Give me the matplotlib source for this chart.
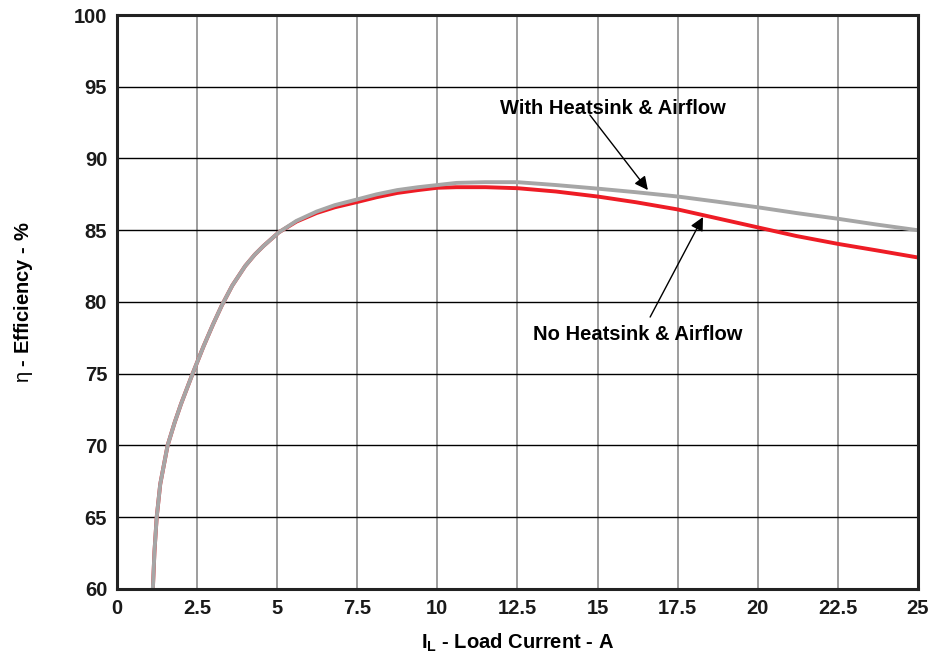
import matplotlib
matplotlib.use('Agg')
import matplotlib.pyplot as plt

plt.rcParams['font.family'] = ['Liberation Sans', 'DejaVu Sans']
plt.rcParams['mathtext.fontset'] = 'custom'
plt.rcParams['mathtext.rm'] = 'Liberation Sans'
plt.rcParams['mathtext.bf'] = 'Liberation Sans:bold'

# load current (A) and efficiency (%)
current = [1.12, 1.17, 1.24, 1.35, 1.58, 1.8, 2.0, 2.36, 2.7, 3.0, 3.27, 3.6,
           4.0, 4.3, 4.57, 5.05, 5.6, 6.23, 6.8, 7.5, 8.1, 8.75, 9.4, 10.0,
           10.6, 11.5, 12.5, 13.7, 15.0, 16.2, 17.5, 18.7, 20.0, 21.2, 22.5,
           23.7, 25.0]
eff_heatsink = [60.0, 62.6, 65.0, 67.3, 70.0, 71.6, 72.9, 75.0, 76.9, 78.45, 79.75, 81.15,
                82.5, 83.3, 83.9, 84.85, 85.65, 86.3, 86.75, 87.15, 87.5, 87.8, 88.0, 88.15,
                88.3, 88.35, 88.35, 88.15, 87.9, 87.65, 87.35, 87.0, 86.6, 86.2, 85.8,
                85.4, 85.0]
eff_no_heatsink = [60.0, 62.6, 65.0, 67.3, 70.0, 71.6, 72.9, 75.0, 76.9, 78.45, 79.75, 81.15,
                   82.5, 83.3, 83.9, 84.85, 85.6, 86.2, 86.6, 86.97, 87.3, 87.6, 87.8, 87.96,
                   88.0, 88.0, 87.93, 87.7, 87.35, 86.95, 86.45, 85.85, 85.2, 84.6, 84.05,
                   83.6, 83.1]

x_ticks = [0, 2.5, 5, 7.5, 10, 12.5, 15, 17.5, 20, 22.5, 25]
x_tick_labels = ['0', '2.5', '5', '7.5', '10', '12.5', '15', '17.5', '20', '22.5', '25']
y_ticks = [60, 65, 70, 75, 80, 85, 90, 95, 100]

fig = plt.figure(figsize=(9.35, 6.58), dpi=100)
ax = fig.add_axes([0.1251, 0.1049, 0.8567, 0.8723])

ax.plot(current, eff_no_heatsink, color='#ee1c25', lw=2.8, zorder=3,
        solid_joinstyle='round')
ax.plot(current, eff_heatsink, color='#a6a6a6', lw=2.8, zorder=4,
        solid_joinstyle='round')

ax.set_xlim(0, 25)
ax.set_ylim(60, 100)
ax.set_xticks(x_ticks)
ax.set_xticklabels(x_tick_labels)
ax.set_yticks(y_ticks)

# vertical grid grey, horizontal grid black
ax.xaxis.grid(True, color='#8c8c8c', lw=1.2)
ax.yaxis.grid(True, color='black', lw=1.0)
ax.set_axisbelow(True)

for s in ax.spines.values():
    s.set_linewidth(2.2)
    s.set_color('#222222')
    s.set_zorder(6)

ax.tick_params(length=0, pad=7, labelsize=14.5)
for lbl in ax.get_xticklabels() + ax.get_yticklabels():
    lbl.set_fontweight('bold')
    lbl.set_color('#1a1a1a')

ax.set_xlabel(r'$\mathbf{I}_\mathbf{L}$ - Load Current - A', fontsize=14.5,
              fontweight='bold')
ax.set_ylabel(r'$\mathrm{\eta}$ - Efficiency - %', fontsize=14.5,
              fontweight='bold')
ax.xaxis.set_label_coords(0.5, -0.074)
ax.yaxis.set_label_coords(-0.102, 0.5)

arrow = dict(arrowstyle='-|>', color='black', lw=1.0, mutation_scale=20,
             shrinkA=0, shrinkB=0)
ax.annotate('', xy=(16.57, 87.8), xytext=(14.76, 93.03), arrowprops=arrow, zorder=7)
ax.text(15.48, 93.5, 'With Heatsink & Airflow', ha='center', va='center',
        fontsize=14.5, fontweight='bold', zorder=7)
ax.annotate('', xy=(18.29, 85.92), xytext=(16.64, 78.95), arrowprops=arrow, zorder=7)
ax.text(16.26, 77.7, 'No Heatsink & Airflow', ha='center', va='center',
        fontsize=14.5, fontweight='bold', zorder=7)

fig.savefig('out.png', dpi=100)
